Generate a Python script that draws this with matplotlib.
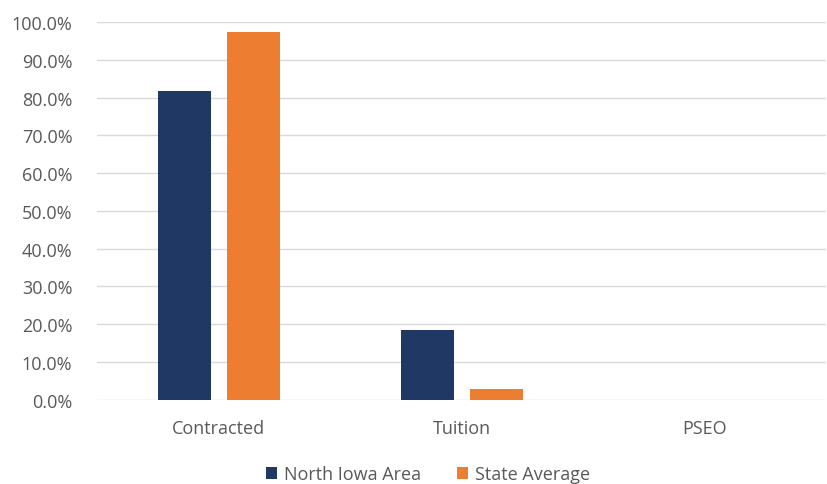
import matplotlib.pyplot as plt
import numpy as np
from matplotlib.ticker import PercentFormatter

categories = ["Contracted", "Tuition", "PSEO"]
north_iowa = [81.7, 18.4, 0.0]
state_avg = [97.3, 2.8, 0.0]

plt.rcParams['font.family'] = ['Open Sans', 'DejaVu Sans']

fig = plt.figure(figsize=(8.28, 4.85), dpi=100)
ax = fig.add_axes([0.1175, 0.174, 0.8805, 0.7786])

x = np.arange(len(categories))
w = 0.218
off = (w + 0.066) / 2
ax.bar(x - off, north_iowa, w, color="#1F3864", label="North Iowa Area", zorder=3)
ax.bar(x + off, state_avg, w, color="#ED7D31", label="State Average", zorder=3)

ax.set_xlim(-0.5, 2.5)
ax.set_ylim(0, 100)
ax.set_yticks(np.arange(0, 101, 10))
ax.yaxis.set_major_formatter(PercentFormatter(decimals=1))
ax.set_xticks(x)
ax.set_xticklabels(categories)
ax.grid(axis="y", color="#D9D9D9", linewidth=1, zorder=0)
for s in ax.spines.values():
    s.set_visible(False)
ax.tick_params(length=0, colors="#595959", labelsize=13)
ax.tick_params(axis="x", pad=14)
ax.tick_params(axis="y", pad=18)

fig.legend(loc="center", bbox_to_anchor=(0.517, 0.02), ncol=2, frameon=False,
           fontsize=13, labelcolor="#595959", handlelength=0.6, handleheight=0.6,
           handletextpad=0.4, columnspacing=2.0)

fig.savefig("out.png", dpi=100)
